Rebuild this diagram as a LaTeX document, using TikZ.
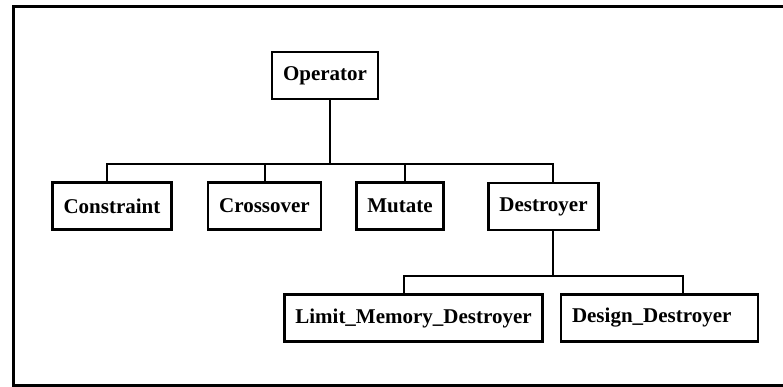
\documentclass[tikz,border=0pt]{standalone}
\usepackage{fontspec}
\setmainfont{Liberation Serif}
\usetikzlibrary{positioning,calc}

\begin{document}
\begin{tikzpicture}[
    x=1pt, y=-1pt,
    node font=\fontsize{21}{25}\selectfont\bfseries,
    class box/.style={draw, line width=2.5pt, inner xsep=11pt, inner ysep=0pt, minimum height=47pt},
    link/.style={line width=2.5pt},
]
\useasboundingbox (0,0) rectangle (783,387);

% === Frame (open on the right) ===
\draw[line width=3pt] (783,7) -- (13,7) -- (13,385) -- (783,385);

% === Classes ===
\node[class box] (op) at (325,75.5) {Operator};

\node[class box] (cons)  at (112,206)   {Constraint};
\node[class box] (cross) at (264.5,206) {Crossover};
\node[class box] (mut)   at (400,206)   {Mutate};
\node[class box] (dest)  at (543.5,206.5) {Destroyer};

\node[class box] (limit)  at (413.5,318) {Limit\_Memory\_Destroyer};
\node[class box, text width=175pt, align=left] (design) at (659.5,318) {Design\_Destroyer};

% === First level bus ===
\coordinate (jop)  at (330,164);
\coordinate (b1l)  at (107,164);
\coordinate (b1r)  at (553,164);
\coordinate (jcross) at (265,164);
\coordinate (jmut) at (405,164);

\draw[link] (jop |- op.south) -- (jop);
\draw[link] (b1l |- cons.north) -- (b1l) -- (b1r) -- (b1r |- dest.north);
\draw[link] (jcross) -- (jcross |- cross.north);
\draw[link] (jmut) -- (jmut |- mut.north);

% === Second level bus ===
\coordinate (jdest) at (553,276);
\coordinate (b2l)   at (404,276);
\coordinate (b2r)   at (683,276);

\draw[link] (jdest |- dest.south) -- (jdest);
\draw[link] (b2l |- limit.north) -- (b2l) -- (b2r) -- (b2r |- design.north);

\end{tikzpicture}
\end{document}
